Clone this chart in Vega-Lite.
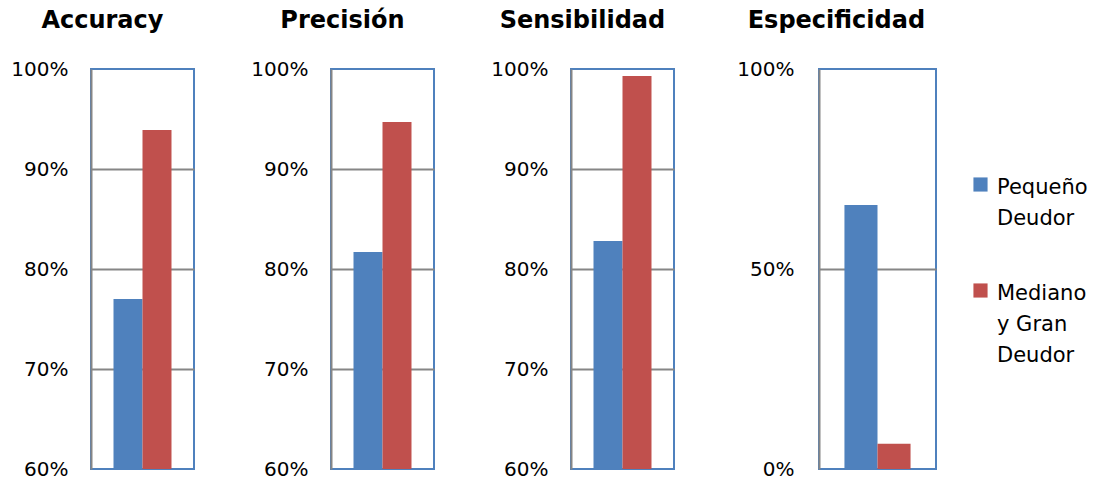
{
  "$schema": "https://vega.github.io/schema/vega-lite/v6.json",
  "padding": {"left": 9, "top": 8, "right": 0, "bottom": 0},
  "background": "white",
  "datasets": {
    "d": [
      {"metric": "Accuracy", "group": "Pequeño Deudor", "value": 0.77},
      {"metric": "Accuracy", "group": "Mediano y Gran Deudor", "value": 0.939},
      {"metric": "Precisión", "group": "Pequeño Deudor", "value": 0.817},
      {"metric": "Precisión", "group": "Mediano y Gran Deudor", "value": 0.947},
      {"metric": "Sensibilidad", "group": "Pequeño Deudor", "value": 0.828},
      {"metric": "Sensibilidad", "group": "Mediano y Gran Deudor", "value": 0.993},
      {"metric": "Especificidad", "group": "Pequeño Deudor", "value": 0.66},
      {"metric": "Especificidad", "group": "Mediano y Gran Deudor", "value": 0.063}
    ]
  },
  "config": {
    "font": "DejaVu Sans",
    "view": {"stroke": "#4f81bd", "strokeWidth": 2},
    "title": {"font": "DejaVu Sans", "fontSize": 24, "fontWeight": "bold", "color": "#000000", "anchor": "middle", "frame": "bounds"},
    "axis": {
      "labelFont": "DejaVu Sans", "labelFontSize": 20, "labelColor": "#000000",
      "ticks": false, "domainColor": "#868686", "domainWidth": 2,
      "gridColor": "#868686", "gridWidth": 2, "labelPadding": 23,
      "labelFlush": false, "labelOverlap": false, "title": null
    }
  },
  "spacing": 60,
  "hconcat": [
    {
      "spacing": 54,
      "hconcat": [
        {
          "title": {"text": "Accuracy", "offset": 26},
          "width": 103, "height": 400,
          "data": {"name": "d"},
          "transform": [{"filter": "datum.metric == 'Accuracy'"}],
          "mark": {"type": "bar"},
          "encoding": {
            "x": {"field": "group", "type": "nominal", "sort": ["Pequeño Deudor", "Mediano y Gran Deudor"], "axis": null, "scale": {"paddingInner": 0, "paddingOuter": 0.776}},
            "y": {"field": "value", "type": "quantitative", "scale": {"domain": [0.6, 1], "zero": false}, "axis": {"values": [0.6, 0.7, 0.8, 0.9, 1.0], "format": ".0%", "gridOpacity": {"condition": {"test": "datum.value <= 0.6 || datum.value >= 1", "value": 0}, "value": 1}}},
            "y2": {"datum": 0.6},
            "color": {"field": "group", "type": "nominal", "scale": {"domain": ["Pequeño Deudor", "Mediano y Gran Deudor"], "range": ["#4f81bd", "#c0504d"]},
              "legend": {"orient": "none", "legendX": 879, "legendY": 105, "title": null, "symbolType": "square", "symbolSize": 200, "symbolStrokeWidth": 0, "labelFont": "DejaVu Sans", "labelFontSize": 21, "labelColor": "#000000", "labelBaseline": "top", "labelOffset": 6, "rowPadding": 51, "labelLimit": 200,
                "labelExpr": "datum.label == 'Pequeño Deudor' ? ['Pequeño', 'Deudor'] : ['Mediano', 'y Gran', 'Deudor']",
                "encode": {"labels": {"update": {"lineHeight": {"value": 31}, "dy": {"value": -8}}}}}}
          }
        },
        {
          "title": {"text": "Precisión", "offset": 26},
          "width": 103, "height": 400,
          "data": {"name": "d"},
          "transform": [{"filter": "datum.metric == 'Precisión'"}],
          "mark": {"type": "bar"},
          "encoding": {
            "x": {"field": "group", "type": "nominal", "sort": ["Pequeño Deudor", "Mediano y Gran Deudor"], "axis": null, "scale": {"paddingInner": 0, "paddingOuter": 0.776}},
            "y": {"field": "value", "type": "quantitative", "scale": {"domain": [0.6, 1], "zero": false}, "axis": {"values": [0.6, 0.7, 0.8, 0.9, 1.0], "format": ".0%", "gridOpacity": {"condition": {"test": "datum.value <= 0.6 || datum.value >= 1", "value": 0}, "value": 1}}},
            "y2": {"datum": 0.6},
            "color": {"field": "group", "type": "nominal", "scale": {"domain": ["Pequeño Deudor", "Mediano y Gran Deudor"], "range": ["#4f81bd", "#c0504d"]},
              "legend": {"orient": "none", "legendX": 879, "legendY": 105, "title": null, "symbolType": "square", "symbolSize": 200, "symbolStrokeWidth": 0, "labelFont": "DejaVu Sans", "labelFontSize": 21, "labelColor": "#000000", "labelBaseline": "top", "labelOffset": 6, "rowPadding": 51, "labelLimit": 200,
                "labelExpr": "datum.label == 'Pequeño Deudor' ? ['Pequeño', 'Deudor'] : ['Mediano', 'y Gran', 'Deudor']",
                "encode": {"labels": {"update": {"lineHeight": {"value": 31}, "dy": {"value": -8}}}}}}
          }
        },
        {
          "title": {"text": "Sensibilidad", "offset": 26},
          "width": 103, "height": 400,
          "data": {"name": "d"},
          "transform": [{"filter": "datum.metric == 'Sensibilidad'"}],
          "mark": {"type": "bar"},
          "encoding": {
            "x": {"field": "group", "type": "nominal", "sort": ["Pequeño Deudor", "Mediano y Gran Deudor"], "axis": null, "scale": {"paddingInner": 0, "paddingOuter": 0.776}},
            "y": {"field": "value", "type": "quantitative", "scale": {"domain": [0.6, 1], "zero": false}, "axis": {"values": [0.6, 0.7, 0.8, 0.9, 1.0], "format": ".0%", "gridOpacity": {"condition": {"test": "datum.value <= 0.6 || datum.value >= 1", "value": 0}, "value": 1}}},
            "y2": {"datum": 0.6},
            "color": {"field": "group", "type": "nominal", "scale": {"domain": ["Pequeño Deudor", "Mediano y Gran Deudor"], "range": ["#4f81bd", "#c0504d"]},
              "legend": {"orient": "none", "legendX": 879, "legendY": 105, "title": null, "symbolType": "square", "symbolSize": 200, "symbolStrokeWidth": 0, "labelFont": "DejaVu Sans", "labelFontSize": 21, "labelColor": "#000000", "labelBaseline": "top", "labelOffset": 6, "rowPadding": 51, "labelLimit": 200,
                "labelExpr": "datum.label == 'Pequeño Deudor' ? ['Pequeño', 'Deudor'] : ['Mediano', 'y Gran', 'Deudor']",
                "encode": {"labels": {"update": {"lineHeight": {"value": 31}, "dy": {"value": -8}}}}}}
          }
        }
      ]
    },
    {
      "title": {"text": "Especificidad", "offset": 26},
      "width": 117, "height": 400,
      "data": {"name": "d"},
      "transform": [{"filter": "datum.metric == 'Especificidad'"}],
      "mark": {"type": "bar"},
      "encoding": {
        "x": {"field": "group", "type": "nominal", "sort": ["Pequeño Deudor", "Mediano y Gran Deudor"], "axis": null, "scale": {"paddingInner": 0, "paddingOuter": 0.77}},
        "y": {"field": "value", "type": "quantitative", "scale": {"domain": [0, 1]}, "axis": {"values": [0, 0.5, 1.0], "format": ".0%", "labelPadding": 25, "gridOpacity": {"condition": {"test": "datum.value <= 0 || datum.value >= 1", "value": 0}, "value": 1}}},
        "color": {"field": "group", "type": "nominal", "scale": {"domain": ["Pequeño Deudor", "Mediano y Gran Deudor"], "range": ["#4f81bd", "#c0504d"]},
          "legend": {"orient": "none", "legendX": 879, "legendY": 105, "title": null, "symbolType": "square", "symbolSize": 200, "symbolStrokeWidth": 0, "labelFont": "DejaVu Sans", "labelFontSize": 21, "labelColor": "#000000", "labelBaseline": "top", "labelOffset": 6, "rowPadding": 51, "labelLimit": 200,
            "labelExpr": "datum.label == 'Pequeño Deudor' ? ['Pequeño', 'Deudor'] : ['Mediano', 'y Gran', 'Deudor']",
            "encode": {"labels": {"update": {"lineHeight": {"value": 31}, "dy": {"value": -8}}}}}}
      }
    }
  ]
}
